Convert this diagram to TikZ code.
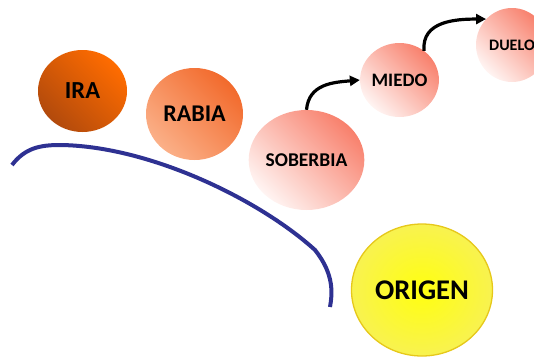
\documentclass[tikz,border=0pt]{standalone}
\usepackage{fontspec}
\setmainfont{Carlito}
\usetikzlibrary{shapes.geometric,arrows.meta}
\definecolor{iradark}{HTML}{B24A0C}
\definecolor{iralight}{HTML}{FF6C00}
\definecolor{rabdark}{HTML}{F26A2C}
\definecolor{rablight}{HTML}{FBB088}
\definecolor{salmon}{HTML}{F8806C}
\definecolor{pale}{HTML}{FFF4F2}
\definecolor{arcblue}{HTML}{2E3192}
\definecolor{yelin}{HTML}{FFFF10}
\definecolor{yelout}{HTML}{F8F250}
\definecolor{yelrim}{HTML}{E6C81A}
\tikzset{
  bubble/.style={ellipse, inner sep=0pt, font=\bfseries, text=black},
  flow/.style={line width=3.2pt, black, -{Triangle[length=10pt,width=10pt]}},
}
\begin{document}
\begin{tikzpicture}[x=1pt,y=-1pt]
\useasboundingbox (0,0) rectangle (534,356);
\node[bubble, minimum width=89pt, minimum height=82pt, font=\bfseries\fontsize{24.5}{25}\selectfont,
  top color=iralight, bottom color=iradark, shading angle=-45] (ira) at (82.5,91) {IRA};
\node[bubble, minimum width=97pt, minimum height=92pt, font=\bfseries\fontsize{24}{24}\selectfont,
  top color=rabdark, bottom color=rablight, shading angle=-45] (rabia) at (194.5,114) {RABIA};
\node[bubble, minimum width=97pt, minimum height=100pt, font=\bfseries\fontsize{19.5}{20}\selectfont,
  top color=salmon, bottom color=pale, shading angle=-45] (soberbia) at (306.5,160) {SOBERBIA};
\node[bubble, minimum width=67pt, minimum height=74pt, font=\bfseries\fontsize{19}{19}\selectfont,
  top color=salmon, bottom color=pale, shading angle=-45] (miedo) at (399.5,80) {MIEDO};
\node[bubble, minimum width=72pt, minimum height=74pt, font=\bfseries\fontsize{16}{16}\selectfont,
  top color=salmon, bottom color=pale, shading angle=-45] (duelo) at (512,45) {DUELO};
\node[bubble, minimum width=141pt, minimum height=132pt, font=\bfseries\fontsize{28.5}{29}\selectfont,
  draw=yelrim, line width=1.3pt, inner color=yelin, outer color=yelout] (origen) at (422,290) {ORIGEN};
\coordinate (arcstart) at (12,165);
\coordinate (arcend) at (330,307);
\draw[arcblue, line width=4pt] (arcstart) .. controls (25,148) and (40,145) .. (60,145)
  .. controls (150,146) and (260,200) .. (315,250)
  .. controls (335,275) and (332,295) .. (arcend);
\draw[flow] (soberbia.north) to[out=85,in=185,looseness=1.1] (miedo.west);
\draw[flow] (miedo.50) to[out=95,in=180,looseness=1.1] (duelo.135);
\end{tikzpicture}
\end{document}
